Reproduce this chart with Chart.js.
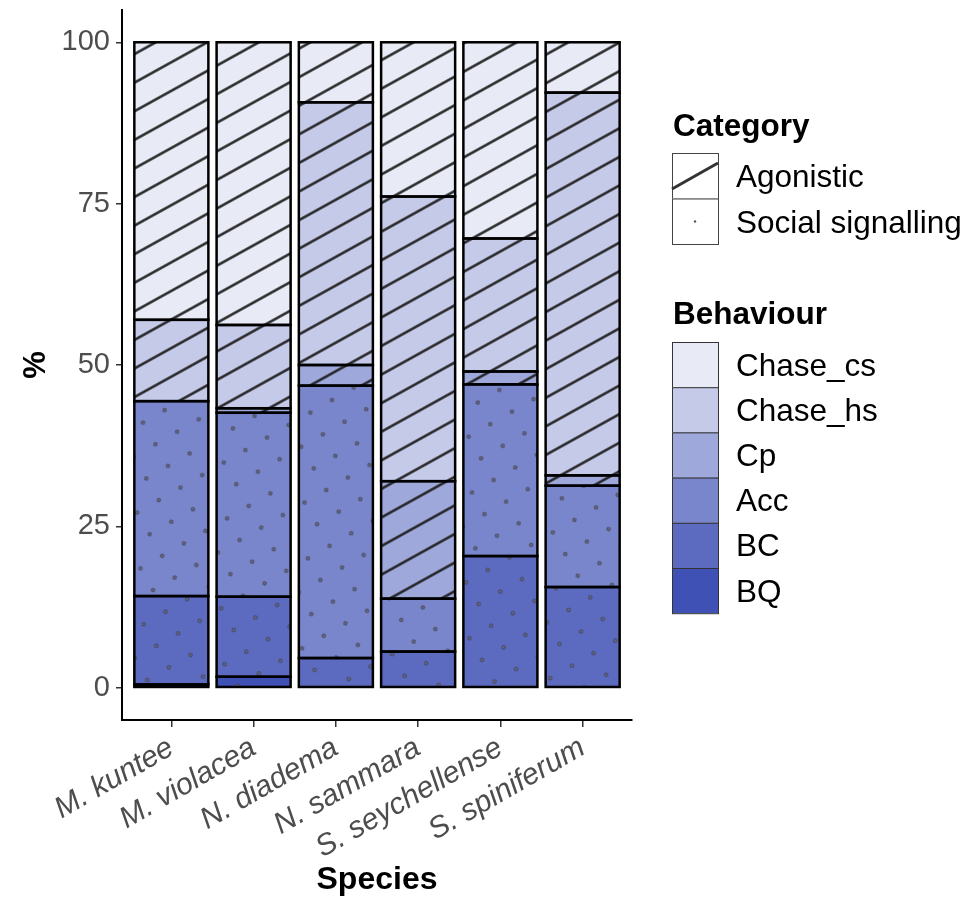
<!DOCTYPE html>
<html>
<head>
<meta charset="utf-8">
<script src="https://cdn.jsdelivr.net/npm/chart.js@4.4.0/dist/chart.umd.min.js"></script>
<style>
html, body { margin: 0; padding: 0; background: #fff; }
#wrap { width: 977px; height: 907px; }
</style>
</head>
<body>
<div id="wrap"><canvas id="behaviourChart" width="977" height="907"></canvas></div>
<script>
// Behaviour share (%) per species, stacked bottom to top

const species = ["M. kuntee", "M. violacea", "N. diadema", "N. sammara", "S. seychellense", "S. spiniferum"];
const behaviours = ["BQ", "BC", "Acc", "Cp", "Chase_hs", "Chase_cs"];
const categories = ["Agonistic", "Social signalling"];
const behaviourCategory = ["Social signalling", "Social signalling", "Social signalling", "Agonistic", "Agonistic", "Agonistic"];

const bqValues = [0.5, 1.7, 0, 0, 0, 0];
const bcValues = [13.7, 12.4, 4.6, 5.6, 20.4, 15.6];
const accValues = [30.2, 28.5, 42.2, 8.2, 26.6, 15.7];
const cpValues = [0, 0.7, 3.2, 18.2, 2.0, 1.6];
const chaseHsValues = [12.6, 12.9, 40.7, 44.1, 20.6, 59.3];
const chaseCsValues = [43.0, 43.8, 9.3, 23.9, 30.4, 7.8];

const yTicks = [0, 25, 50, 75, 100];

const behaviourColours = ["#3F51B5", "#5C6BC0", "#7986CB", "#9FA8DA", "#C5CAE9", "#E8EAF6"];
const fontFamily = "'Liberation Sans', Arial, sans-serif";

const canvas = document.getElementById("behaviourChart");
const ctx = canvas.getContext("2d");

// pattern fills (lines = Agonistic, dots = Social signalling)
function hatchPattern(fill) {
	const c = document.createElement("canvas");
	c.width = 25;
	c.height = 25;
	const g = c.getContext("2d");
	g.fillStyle = fill;
	g.fillRect(0, 0, 25, 25);
	g.strokeStyle = "#1e1e1e";
	g.lineWidth = 2.4;
	g.beginPath();
	g.moveTo(-2, 12.5);
	g.lineTo(27, 12.5);
	g.stroke();
	const p = ctx.createPattern(c, "repeat");
	p.setTransform(new DOMMatrix().rotate(-29));
	return p;
}

function dotPattern(fill) {
	const c = document.createElement("canvas");
	c.width = 25;
	c.height = 25;
	const g = c.getContext("2d");
	g.fillStyle = fill;
	g.fillRect(0, 0, 25, 25);
	g.beginPath();
	g.arc(12.5, 12.5, 1.7, 0, Math.PI * 2);
	g.fillStyle = "#6d7090";
	g.fill();
	g.strokeStyle = "#333";
	g.lineWidth = 0.8;
	g.stroke();
	const p = ctx.createPattern(c, "repeat");
	p.setTransform(new DOMMatrix().rotate(-30));
	return p;
}

const seriesValues = [bqValues, bcValues, accValues, cpValues, chaseHsValues, chaseCsValues];

const behaviourData = {
	datasets: behaviours.map((b, k) => ({
		label: b,
		data: seriesValues[k].map((v, i) => ({ x: i + 1, y: v })),
		backgroundColor: behaviourCategory[k] === "Agonistic" ? hatchPattern(behaviourColours[k]) : dotPattern(behaviourColours[k]),
		borderWidth: 0,
		barPercentage: 0.9,
		categoryPercentage: 1,
	})),
};

// black outline round every segment
const outlinePlugin = {
	id: "outline",
	afterDatasetsDraw(chart) {
		const c = chart.ctx;
		c.save();
		c.strokeStyle = "#000";
		c.lineWidth = 2.5;
		chart.data.datasets.forEach((ds, i) => {
			chart.getDatasetMeta(i).data.forEach((bar) => {
				const top = Math.min(bar.y, bar.base);
				const h = Math.abs(bar.base - bar.y);
				if (h < 0.5) return;
				c.strokeRect(bar.x - bar.width / 2, top, bar.width, h);
			});
		});
		c.restore();
	},
};

// two-part legend on the right
const legendPlugin = {
	id: "sideLegend",
	afterDraw(chart) {
		const c = chart.ctx;
		const x0 = 672;
		const key = 46;
		c.save();
		c.textAlign = "left";
		c.textBaseline = "alphabetic";
		c.fillStyle = "#000";

		c.font = "bold 31.5px " + fontFamily;
		c.fillText("Category", 673, 136);

		c.font = "31.5px " + fontFamily;
		categories.forEach((cat, i) => {
			const y = 153 + i * 45.5;
			c.fillStyle = "#fff";
			c.fillRect(x0, y, key, 45.5);
			c.strokeStyle = "#444";
			c.lineWidth = 1;
			c.strokeRect(x0 + 0.5, y + 0.5, key, 45.5);
			if (cat === "Agonistic") {
				c.strokeStyle = "#333";
				c.lineWidth = 3;
				c.beginPath();
				c.moveTo(x0, y + 36);
				c.lineTo(x0 + key, y + 10);
				c.stroke();
			} else {
				c.beginPath();
				c.arc(x0 + key / 2, y + 23, 1.2, 0, Math.PI * 2);
				c.fillStyle = "#555";
				c.fill();
			}
			c.fillStyle = "#000";
			c.fillText(cat, 736, y + 34);
		});

		c.font = "bold 31.5px " + fontFamily;
		c.fillText("Behaviour", 673, 324);

		c.font = "31.5px " + fontFamily;
		const legendOrder = behaviours.slice().reverse();
		legendOrder.forEach((b, i) => {
			const y = 342 + i * 45.2;
			c.fillStyle = behaviourColours[behaviours.indexOf(b)];
			c.fillRect(x0, y, key, 45.2);
			c.strokeStyle = "#333";
			c.lineWidth = 1;
			c.strokeRect(x0 + 0.5, y + 0.5, key, 45.2);
			c.fillStyle = "#000";
			c.fillText(b, 736, y + 33.5);
		});
		c.restore();
	},
};

const behaviourConfig = {
	type: "bar",
	data: behaviourData,
	options: {
		responsive: false,
		animation: false,
		layout: { padding: { left: 0, right: 345, top: 10, bottom: 0 } },
		plugins: { legend: { display: false }, tooltip: { enabled: false } },
		scales: {
			x: {
				type: "linear",
				stacked: true,
				offset: false,
				min: 0.4,
				max: 6.6,
				afterBuildTicks: (s) => {
					s.ticks = species.map((n, i) => ({ value: i + 1 }));
				},
				afterFit: (s) => {
					s.height = 187;
					s.paddingLeft = 0;
					s.paddingRight = 0;
				},
				ticks: {
					callback: (v) => species[v - 1],
					minRotation: 30,
					maxRotation: 30,
					autoSkip: false,
					color: "#4D4D4D",
					font: { family: fontFamily, size: 30, style: "italic" },
					padding: 3,
				},
				grid: { offset: false, drawOnChartArea: false, drawTicks: true, tickLength: 7, color: "#333", lineWidth: 1.5 },
				border: { display: true, color: "#000", width: 2 },
				title: {
					display: true,
					text: "Species",
					color: "#000",
					font: { family: fontFamily, size: 32, weight: "bold" },
					padding: { top: 0, bottom: 8 },
				},
			},
			y: {
				stacked: true,
				min: -5,
				max: 105,
				afterBuildTicks: (s) => {
					s.ticks = yTicks.map((v) => ({ value: v }));
				},
				afterFit: (s) => {
					s.width = 122;
					s.paddingTop = 0;
					s.paddingBottom = 0;
				},
				ticks: {
					color: "#4D4D4D",
					font: { family: fontFamily, size: 29 },
					padding: 6,
				},
				grid: { drawOnChartArea: false, drawTicks: true, tickLength: 6, color: "#333", lineWidth: 1.5 },
				border: { display: true, color: "#000", width: 2 },
				title: {
					display: true,
					text: "%",
					color: "#000",
					font: { family: fontFamily, size: 31, weight: "bold" },
					padding: { top: 18, bottom: 0 },
				},
			},
		},
	},
	plugins: [outlinePlugin, legendPlugin],
};

const behaviourChart = new Chart(canvas, behaviourConfig);
</script>
</body>
</html>
